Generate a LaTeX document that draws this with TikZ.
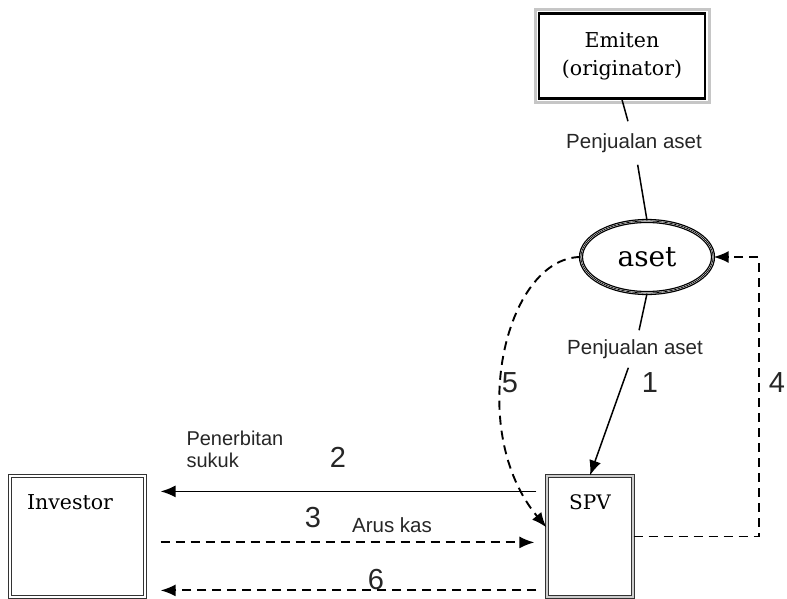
\documentclass[tikz,border=0pt]{standalone}
\usepackage{fontspec}
\setmainfont{DejaVu Serif}
\newfontfamily\lsans{Liberation Sans}
\usetikzlibrary{shapes.geometric,arrows.meta}
\begin{document}
\begin{tikzpicture}[x=1pt,y=-1pt,
  box/.style={draw=black!80,rectangle,line width=1.2pt,double=white,double distance=1.6pt,inner sep=0pt},
  lbl/.style={font=\lsans\fontsize{20.5}{22}\selectfont, text=black!85},
  num/.style={font=\lsans\fontsize{29}{31}\selectfont, text=black!85},
  arr/.style={-{Latex[length=15pt,width=12pt]}, line width=1.5pt},
  dsh/.style={dash pattern=on 9pt off 6pt, line width=1.9pt}]
\useasboundingbox (0,0) rectangle (787,599);

% nodes
\node[draw=black, line width=2.4pt, rectangle, minimum width=166pt, minimum height=85pt, align=center,
      font=\fontsize{20.5}{28}\selectfont] (emiten) at (622,56) {Emiten\\(originator)};
\node[ellipse, draw, line width=1.3pt, double=white, double distance=1.6pt,
      postaction={draw, line width=0.7pt},
      minimum width=132pt, minimum height=72pt, inner sep=0pt,
      font=\fontsize{28}{30}\selectfont] (aset) at (647,257) {aset};
\node[lbl, inner xsep=2pt, inner ysep=12pt] (pj1) at (634,143) {Penjualan aset};
\node[lbl, inner xsep=2pt, inner ysep=9pt] (pj2) at (635,349) {Penjualan aset};
\node[box, double=gray!40, minimum width=86pt, minimum height=121pt] (spv) at (590,536.5) {};
\node[font=\fontsize{20}{22}\selectfont] (spvt) at (590,502) {SPV};
\node[box, minimum width=135pt, minimum height=121pt] (investor) at (77.5,536.5) {};
\node[font=\fontsize{20.5}{22}\selectfont] (invt) at (70,502) {Investor};
\draw[gray!45, line width=3pt] ([shift={(-2.8pt,2.8pt)}]emiten.north west) rectangle ([shift={(2.8pt,-2.8pt)}]emiten.south east);

% numbers and labels
\node[num] (n1) at (650,383) {1};
\node[num] (n2) at (338,457) {2};
\node[num] (n3) at (313,518) {3};
\node[num] (n4) at (777,383) {4};
\node[num] (n5) at (510,383) {5};
\node[num] (n6) at (376,580) {6};
\node[lbl, align=left, anchor=west, font=\lsans\fontsize{20}{22}\selectfont] (pen) at (183,449) {Penerbitan\\sukuk};
\node[lbl] (arus) at (392,525) {Arus kas};

% connectors
\draw[line width=1.5pt] (emiten.south) -- (pj1);
\draw[line width=1.5pt] (pj1) -- (aset.north);
\draw[line width=1.5pt] (aset.south) -- (pj2);
\draw[arr] (pj2) -- (spv.north);
\draw[arr, shorten <=10pt, shorten >=15pt] ([yshift=-16pt]spv.north west) -- ([yshift=-16pt]investor.north east);
\draw[arr, dsh, shorten <=15pt, shorten >=12pt] ([yshift=-67pt]investor.north east) -- ([yshift=-67pt]spv.north west);
\draw[arr, dsh, shorten <=10pt, shorten >=15pt] ([yshift=-115pt]spv.north west) -- ([yshift=-115pt]investor.north east);
\draw[arr, dsh] (spv.east) -- ++(125,0) |- (aset.east);
\draw[arr, dsh] (aset.west) .. controls (505,258) and (465,430) .. ([yshift=-52pt]spv.north west);
\end{tikzpicture}
\end{document}
